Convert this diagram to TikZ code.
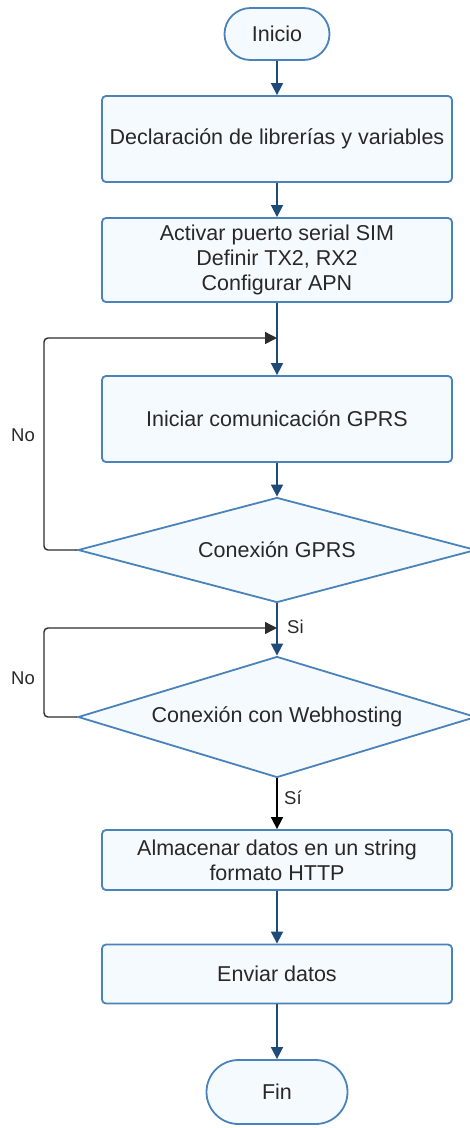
\documentclass[tikz,border=0pt]{standalone}
\usepackage{fontspec}
\setmainfont{Liberation Sans}
\usetikzlibrary{shapes.geometric,shapes.misc,arrows.meta}
\definecolor{boxline}{RGB}{74,130,186}
\definecolor{boxfill}{RGB}{245,250,255}
\definecolor{flow}{RGB}{30,75,120}
\definecolor{loopline}{RGB}{45,45,45}
\definecolor{txt}{RGB}{40,40,40}
\tikzset{
  base/.style={draw=boxline, fill=boxfill, line width=1.8pt, text=txt,
    font=\fontsize{21.5}{25}\selectfont, align=center, inner sep=0pt},
  terminal/.style={base, rounded rectangle},
  process/.style={base, rectangle, rounded corners=4pt,
    minimum width=350pt},
  decision/.style={base, diamond, shape aspect=4,
    minimum width=398pt, minimum height=105pt},
  flowarrow/.style={draw=flow, line width=1.6pt,
    -{Triangle[width=12pt,length=12pt]}},
  looparrow/.style={draw=loopline, line width=1.4pt, rounded corners=4pt,
    -{Triangle[width=12pt,length=12pt]}},
  yesarrow/.style={draw=black, line width=1.6pt,
    -{Triangle[width=12pt,length=12pt]}},
  lbl/.style={text=txt, font=\fontsize{18.5}{21}\selectfont, inner sep=0pt}
}
\begin{document}
\begin{tikzpicture}[x=1pt,y=-1pt]
\useasboundingbox (0,0) rectangle (469,1128);

% process chain
\node[terminal, minimum width=105pt, minimum height=52pt] (inicio) at (277,34) {Inicio};
\node[process, minimum height=86pt] (decl) at (277,139) {Declaración de librerías y variables};
\node[process, minimum height=84pt] (serial) at (277,260)
  {Activar puerto serial SIM\\Definir TX2, RX2\\Configurar APN};
\node[process, minimum height=86pt] (gprs) at (277,419) {Iniciar comunicación GPRS};
\node[decision] (dgprs) at (277,550) {Conexión GPRS};
\node[decision, minimum height=121pt] (dweb) at (277,717) {Conexión con Webhosting};
\node[process, minimum height=60pt] (store) at (277,860)
  {Almacenar datos en un string\\formato HTTP};
\node[process, minimum height=59pt] (send) at (277,974) {Enviar datos};
\node[terminal, minimum width=141pt, minimum height=64pt] (fin) at (277,1092) {Fin};

% merge points of the retry loops
\coordinate (j1) at (277,338);
\coordinate (j2) at (277,628);

\draw[flowarrow] (inicio.south) -- (decl.north);
\draw[flowarrow] (decl.south) -- (serial.north);
\draw[flowarrow] (serial.south) -- (gprs.north);
\draw[flowarrow] (gprs.south) -- (dgprs.north);
\draw[flowarrow] (dgprs.south) -- (dweb.north);
\draw[yesarrow] (dweb.south) -- (store.north);
\draw[flowarrow] (store.south) -- (send.north);
\draw[flowarrow] (send.south) -- (fin.north);

\draw[looparrow] (dgprs.west) -- (44,550) -- (44,338) -- (j1);
\draw[looparrow] (dweb.west) -- (44,717) -- (44,628) -- (j2);

\node[lbl] (no1) at (23,435) {No};
\node[lbl] (no2) at (23,678) {No};
\node[lbl, anchor=west] (si1) at (287,627) {Si};
\node[lbl, anchor=west] (si2) at (284,798) {Sí};
\end{tikzpicture}
\end{document}
